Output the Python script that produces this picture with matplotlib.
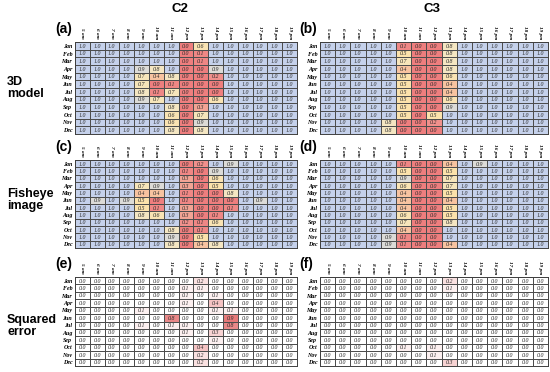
import numpy as np
import matplotlib
matplotlib.use("Agg")
import matplotlib.pyplot as plt
from matplotlib.colors import LinearSegmentedColormap

months = ["Jan", "Feb", "Mar", "Apr", "May", "Jun",
          "Jul", "Aug", "Sep", "Oct", "Nov", "Dec"]
hours = ["5 am", "6 am", "7 am", "8 am", "9 am", "10 am", "11 am",
         "12 pm", "13 pm", "14 pm", "15 pm", "16 pm", "17 pm", "18 pm", "19 pm"]

# C2 - 3D model
c2_model = [
    [1.0, 1.0, 1.0, 1.0, 1.0, 1.0, 1.0, 0.0, 0.6, 1.0, 1.0, 1.0, 1.0, 1.0, 1.0],
    [1.0, 1.0, 1.0, 1.0, 1.0, 1.0, 1.0, 0.0, 0.1, 1.0, 1.0, 1.0, 1.0, 1.0, 1.0],
    [1.0, 1.0, 1.0, 1.0, 1.0, 1.0, 1.0, 0.0, 0.1, 1.0, 1.0, 1.0, 1.0, 1.0, 1.0],
    [1.0, 1.0, 1.0, 1.0, 0.9, 0.8, 1.0, 0.0, 0.0, 0.9, 1.0, 1.0, 1.0, 1.0, 1.0],
    [1.0, 1.0, 1.0, 1.0, 0.7, 0.4, 0.8, 0.0, 0.0, 0.2, 1.0, 1.0, 1.0, 1.0, 1.0],
    [1.0, 1.0, 1.0, 1.0, 0.7, 0.0, 0.1, 0.0, 0.0, 0.0, 1.0, 1.0, 1.0, 1.0, 1.0],
    [1.0, 1.0, 1.0, 1.0, 0.8, 0.1, 0.7, 0.0, 0.0, 0.0, 1.0, 1.0, 1.0, 1.0, 1.0],
    [1.0, 1.0, 1.0, 1.0, 0.9, 0.7, 1.0, 0.0, 0.0, 0.6, 1.0, 1.0, 1.0, 1.0, 1.0],
    [1.0, 1.0, 1.0, 1.0, 1.0, 1.0, 0.8, 0.0, 0.3, 1.0, 1.0, 1.0, 1.0, 1.0, 1.0],
    [1.0, 1.0, 1.0, 1.0, 1.0, 1.0, 0.6, 0.0, 0.7, 1.0, 1.0, 1.0, 1.0, 1.0, 1.0],
    [1.0, 1.0, 1.0, 1.0, 1.0, 1.0, 0.6, 0.0, 0.9, 1.0, 1.0, 1.0, 1.0, 1.0, 1.0],
    [1.0, 1.0, 1.0, 1.0, 1.0, 1.0, 0.8, 0.0, 0.8, 1.0, 1.0, 1.0, 1.0, 1.0, 1.0],
]

# C3 - 3D model
c3_model = [
    [1.0, 1.0, 1.0, 1.0, 1.0, 0.1, 0.0, 0.0, 0.8, 1.0, 1.0, 1.0, 1.0, 1.0, 1.0],
    [1.0, 1.0, 1.0, 1.0, 1.0, 0.5, 0.0, 0.0, 0.8, 1.0, 1.0, 1.0, 1.0, 1.0, 1.0],
    [1.0, 1.0, 1.0, 1.0, 1.0, 0.7, 0.0, 0.0, 0.8, 1.0, 1.0, 1.0, 1.0, 1.0, 1.0],
    [1.0, 1.0, 1.0, 1.0, 1.0, 0.4, 0.0, 0.0, 0.8, 1.0, 1.0, 1.0, 1.0, 1.0, 1.0],
    [1.0, 1.0, 1.0, 1.0, 1.0, 0.5, 0.0, 0.0, 0.6, 1.0, 1.0, 1.0, 1.0, 1.0, 1.0],
    [1.0, 1.0, 1.0, 1.0, 1.0, 0.5, 0.0, 0.0, 0.4, 1.0, 1.0, 1.0, 1.0, 1.0, 1.0],
    [1.0, 1.0, 1.0, 1.0, 1.0, 0.5, 0.0, 0.0, 0.4, 1.0, 1.0, 1.0, 1.0, 1.0, 1.0],
    [1.0, 1.0, 1.0, 1.0, 1.0, 0.5, 0.0, 0.0, 0.6, 1.0, 1.0, 1.0, 1.0, 1.0, 1.0],
    [1.0, 1.0, 1.0, 1.0, 1.0, 0.5, 0.0, 0.0, 0.9, 1.0, 1.0, 1.0, 1.0, 1.0, 1.0],
    [1.0, 1.0, 1.0, 1.0, 1.0, 0.5, 0.0, 0.5, 1.0, 1.0, 1.0, 1.0, 1.0, 1.0, 1.0],
    [1.0, 1.0, 1.0, 1.0, 0.8, 0.0, 0.0, 0.2, 1.0, 1.0, 1.0, 1.0, 1.0, 1.0, 1.0],
    [1.0, 1.0, 1.0, 1.0, 0.8, 0.0, 0.0, 0.0, 1.0, 1.0, 1.0, 1.0, 1.0, 1.0, 1.0],
]

# C2 - fisheye image
c2_fisheye = [
    [1.0, 1.0, 1.0, 1.0, 1.0, 1.0, 1.0, 0.0, 0.2, 1.0, 0.9, 1.0, 1.0, 1.0, 1.0],
    [1.0, 1.0, 1.0, 1.0, 1.0, 1.0, 1.0, 0.1, 0.0, 0.9, 1.0, 1.0, 1.0, 1.0, 1.0],
    [1.0, 1.0, 1.0, 1.0, 1.0, 1.0, 1.0, 0.3, 0.0, 0.6, 1.0, 1.0, 1.0, 1.0, 1.0],
    [1.0, 1.0, 1.0, 1.0, 0.7, 0.9, 1.0, 0.3, 0.0, 0.5, 1.0, 1.0, 1.0, 1.0, 1.0],
    [1.0, 1.0, 1.0, 1.0, 0.4, 0.4, 1.0, 0.1, 0.0, 0.0, 0.8, 1.0, 1.0, 1.0, 1.0],
    [1.0, 0.9, 1.0, 0.9, 0.5, 0.0, 1.0, 0.1, 0.0, 0.0, 0.0, 1.0, 0.9, 1.0, 1.0],
    [1.0, 1.0, 1.0, 1.0, 0.5, 0.1, 1.0, 0.3, 0.0, 0.0, 0.1, 1.0, 1.0, 1.0, 1.0],
    [1.0, 1.0, 1.0, 1.0, 0.8, 0.6, 1.0, 0.3, 0.0, 0.1, 1.0, 1.0, 1.0, 1.0, 1.0],
    [1.0, 1.0, 1.0, 1.0, 1.0, 1.0, 1.0, 0.2, 0.1, 0.6, 1.0, 1.0, 1.0, 1.0, 1.0],
    [1.0, 1.0, 1.0, 1.0, 1.0, 1.0, 0.8, 0.0, 0.1, 1.0, 1.0, 1.0, 1.0, 1.0, 1.0],
    [1.0, 1.0, 1.0, 1.0, 1.0, 1.0, 0.9, 0.0, 0.5, 1.0, 1.0, 1.0, 1.0, 1.0, 1.0],
    [1.0, 1.0, 1.0, 1.0, 1.0, 1.0, 0.8, 0.0, 0.4, 0.8, 1.0, 1.0, 1.0, 1.0, 1.0],
]

# C3 - fisheye image
c3_fisheye = [
    [1.0, 1.0, 1.0, 1.0, 1.0, 0.1, 0.0, 0.0, 0.4, 1.0, 0.9, 1.0, 1.0, 1.0, 1.0],
    [1.0, 1.0, 1.0, 1.0, 1.0, 0.5, 0.0, 0.0, 0.5, 1.0, 1.0, 1.0, 1.0, 1.0, 1.0],
    [1.0, 1.0, 1.0, 1.0, 1.0, 0.9, 0.0, 0.0, 0.7, 1.0, 1.0, 1.0, 1.0, 1.0, 1.0],
    [1.0, 1.0, 1.0, 1.0, 1.0, 0.6, 0.0, 0.0, 0.7, 1.0, 1.0, 1.0, 1.0, 1.0, 1.0],
    [1.0, 1.0, 1.0, 1.0, 1.0, 0.4, 0.0, 0.0, 0.5, 1.0, 1.0, 1.0, 1.0, 1.0, 1.0],
    [1.0, 1.0, 1.0, 1.0, 1.0, 0.4, 0.0, 0.0, 0.4, 1.0, 1.0, 1.0, 1.0, 1.0, 1.0],
    [1.0, 1.0, 1.0, 1.0, 1.0, 0.4, 0.0, 0.0, 0.5, 1.0, 1.0, 1.0, 1.0, 1.0, 1.0],
    [1.0, 1.0, 1.0, 1.0, 1.0, 0.6, 0.0, 0.0, 0.5, 1.0, 1.0, 1.0, 1.0, 1.0, 1.0],
    [1.0, 1.0, 1.0, 1.0, 1.0, 0.7, 0.0, 0.0, 0.8, 1.0, 1.0, 1.0, 1.0, 1.0, 1.0],
    [1.0, 1.0, 1.0, 1.0, 1.0, 0.4, 0.0, 0.0, 1.0, 1.0, 1.0, 1.0, 1.0, 1.0, 1.0],
    [1.0, 1.0, 1.0, 1.0, 0.9, 0.1, 0.0, 0.0, 1.0, 1.0, 1.0, 1.0, 1.0, 1.0, 1.0],
    [1.0, 1.0, 1.0, 1.0, 0.9, 0.1, 0.0, 0.0, 0.4, 1.0, 1.0, 1.0, 1.0, 1.0, 1.0],
]

# squared error C2
c2_error = [
    [0.0, 0.0, 0.0, 0.0, 0.0, 0.0, 0.0, 0.0, 0.2, 0.0, 0.0, 0.0, 0.0, 0.0, 0.0],
    [0.0, 0.0, 0.0, 0.0, 0.0, 0.0, 0.0, 0.1, 0.1, 0.0, 0.0, 0.0, 0.0, 0.0, 0.0],
    [0.0, 0.0, 0.0, 0.0, 0.0, 0.0, 0.0, 0.1, 0.0, 0.1, 0.0, 0.0, 0.0, 0.0, 0.0],
    [0.0, 0.0, 0.0, 0.0, 0.0, 0.0, 0.0, 0.1, 0.0, 0.4, 0.0, 0.0, 0.0, 0.0, 0.0],
    [0.0, 0.0, 0.0, 0.0, 0.1, 0.0, 0.0, 0.0, 0.0, 0.1, 0.1, 0.0, 0.0, 0.0, 0.0],
    [0.0, 0.0, 0.0, 0.0, 0.0, 0.0, 0.8, 0.0, 0.0, 0.0, 0.9, 0.0, 0.0, 0.0, 0.0],
    [0.0, 0.0, 0.0, 0.0, 0.1, 0.0, 0.1, 0.1, 0.0, 0.0, 0.8, 0.0, 0.0, 0.0, 0.0],
    [0.0, 0.0, 0.0, 0.0, 0.0, 0.0, 0.0, 0.1, 0.0, 0.3, 0.0, 0.0, 0.0, 0.0, 0.0],
    [0.0, 0.0, 0.0, 0.0, 0.0, 0.0, 0.0, 0.0, 0.0, 0.1, 0.0, 0.0, 0.0, 0.0, 0.0],
    [0.0, 0.0, 0.0, 0.0, 0.0, 0.0, 0.0, 0.0, 0.4, 0.0, 0.0, 0.0, 0.0, 0.0, 0.0],
    [0.0, 0.0, 0.0, 0.0, 0.0, 0.0, 0.0, 0.0, 0.2, 0.0, 0.0, 0.0, 0.0, 0.0, 0.0],
    [0.0, 0.0, 0.0, 0.0, 0.0, 0.0, 0.0, 0.0, 0.2, 0.0, 0.0, 0.0, 0.0, 0.0, 0.0],
]

# squared error C3
c3_error = [
    [0.0, 0.0, 0.0, 0.0, 0.0, 0.0, 0.0, 0.0, 0.2, 0.0, 0.0, 0.0, 0.0, 0.0, 0.0],
    [0.0, 0.0, 0.0, 0.0, 0.0, 0.0, 0.0, 0.0, 0.1, 0.0, 0.0, 0.0, 0.0, 0.0, 0.0],
    [0.0, 0.0, 0.0, 0.0, 0.0, 0.0, 0.0, 0.0, 0.0, 0.0, 0.0, 0.0, 0.0, 0.0, 0.0],
    [0.0, 0.0, 0.0, 0.0, 0.0, 0.0, 0.0, 0.0, 0.0, 0.0, 0.0, 0.0, 0.0, 0.0, 0.0],
    [0.0, 0.0, 0.0, 0.0, 0.0, 0.0, 0.0, 0.0, 0.0, 0.0, 0.0, 0.0, 0.0, 0.0, 0.0],
    [0.0, 0.0, 0.0, 0.0, 0.0, 0.0, 0.0, 0.0, 0.0, 0.0, 0.0, 0.0, 0.0, 0.0, 0.0],
    [0.0, 0.0, 0.0, 0.0, 0.0, 0.0, 0.0, 0.0, 0.0, 0.0, 0.0, 0.0, 0.0, 0.0, 0.0],
    [0.0, 0.0, 0.0, 0.0, 0.0, 0.0, 0.0, 0.0, 0.0, 0.0, 0.0, 0.0, 0.0, 0.0, 0.0],
    [0.0, 0.0, 0.0, 0.0, 0.0, 0.0, 0.0, 0.0, 0.0, 0.0, 0.0, 0.0, 0.0, 0.0, 0.0],
    [0.0, 0.0, 0.0, 0.0, 0.0, 0.1, 0.0, 0.1, 0.0, 0.0, 0.0, 0.0, 0.0, 0.0, 0.0],
    [0.0, 0.0, 0.0, 0.0, 0.0, 0.0, 0.0, 0.1, 0.0, 0.0, 0.0, 0.0, 0.0, 0.0, 0.0],
    [0.0, 0.0, 0.0, 0.0, 0.0, 0.0, 0.0, 0.0, 0.3, 0.0, 0.0, 0.0, 0.0, 0.0, 0.0],
]

W, H = 550, 372
shade_cmap = LinearSegmentedColormap.from_list(
    "shade", [(0.0, "#ee7e7e"), (0.25, "#f0958f"), (0.5, "#fbe2ab"),
              (0.8, "#f4e6c2"), (1.0, "#c5d1eb")])
err_cmap = LinearSegmentedColormap.from_list("err", ["#ffffff", "#e46a6a"])

fig = plt.figure(figsize=(W / 100, H / 100), dpi=100)


def box(x0, y0, x1, y1):
    return [x0 / W, 1 - y1 / H, (x1 - x0) / W, (y1 - y0) / H]


def table(rect, data, cmap, label):
    ax = fig.add_axes(box(*rect))
    vals = np.array(data)
    ax.pcolormesh(vals, cmap=cmap, vmin=0, vmax=1,
                  edgecolors="#4d4d4d", linewidth=0.45)
    ax.set_xlim(0, vals.shape[1])
    ax.set_ylim(vals.shape[0], 0)
    for i in range(vals.shape[0]):
        for j in range(vals.shape[1]):
            ax.text(j + 0.5, i + 0.55, "%.1f" % vals[i, j], ha="center", va="center",
                    fontsize=4.2, style="italic", family="Liberation Serif",
                    color="#2a2a2a")
    ax.set_xticks(np.arange(vals.shape[1]) + 0.5)
    ax.set_xticklabels(hours, rotation=270, fontsize=3.8, style="italic",
                       weight="bold", family="Liberation Serif")
    ax.set_yticks(np.arange(vals.shape[0]) + 0.5)
    ax.set_yticklabels(months, fontsize=4.3, style="italic", weight="bold",
                       family="Liberation Serif")
    ax.xaxis.tick_top()
    ax.tick_params(length=0, pad=2)
    for s in ax.spines.values():
        s.set_color("#404040")
        s.set_linewidth(0.7)
    ax.text(-0.09, 1.07, label, transform=ax.transAxes, fontsize=10,
            weight="bold", family="Liberation Sans", ha="left", va="bottom")
    return ax


table((75, 42, 297, 134), c2_model, shade_cmap, "(a)")
table((320, 42, 548, 134), c3_model, shade_cmap, "(b)")
table((75, 160, 297, 248), c2_fisheye, shade_cmap, "(c)")
table((320, 160, 548, 248), c3_fisheye, shade_cmap, "(d)")
table((75, 277, 297, 366), c2_error, err_cmap, "(e)")
table((320, 277, 548, 366), c3_error, err_cmap, "(f)")

fig.text(180 / W, 1 - 9 / H, "C2", ha="center", va="center", fontsize=9.5,
         weight="bold", family="Liberation Sans")
fig.text(432 / W, 1 - 9 / H, "C3", ha="center", va="center", fontsize=9.5,
         weight="bold", family="Liberation Sans")
for y, txt in [(88, "3D\nmodel"), (200, "Fisheye\nimage"), (326, "Squared\nerror")]:
    fig.text(7 / W, 1 - y / H, txt, ha="left", va="center", fontsize=9,
             weight="bold", family="Liberation Sans", linespacing=1.1)

fig.savefig("out.png", dpi=100)
